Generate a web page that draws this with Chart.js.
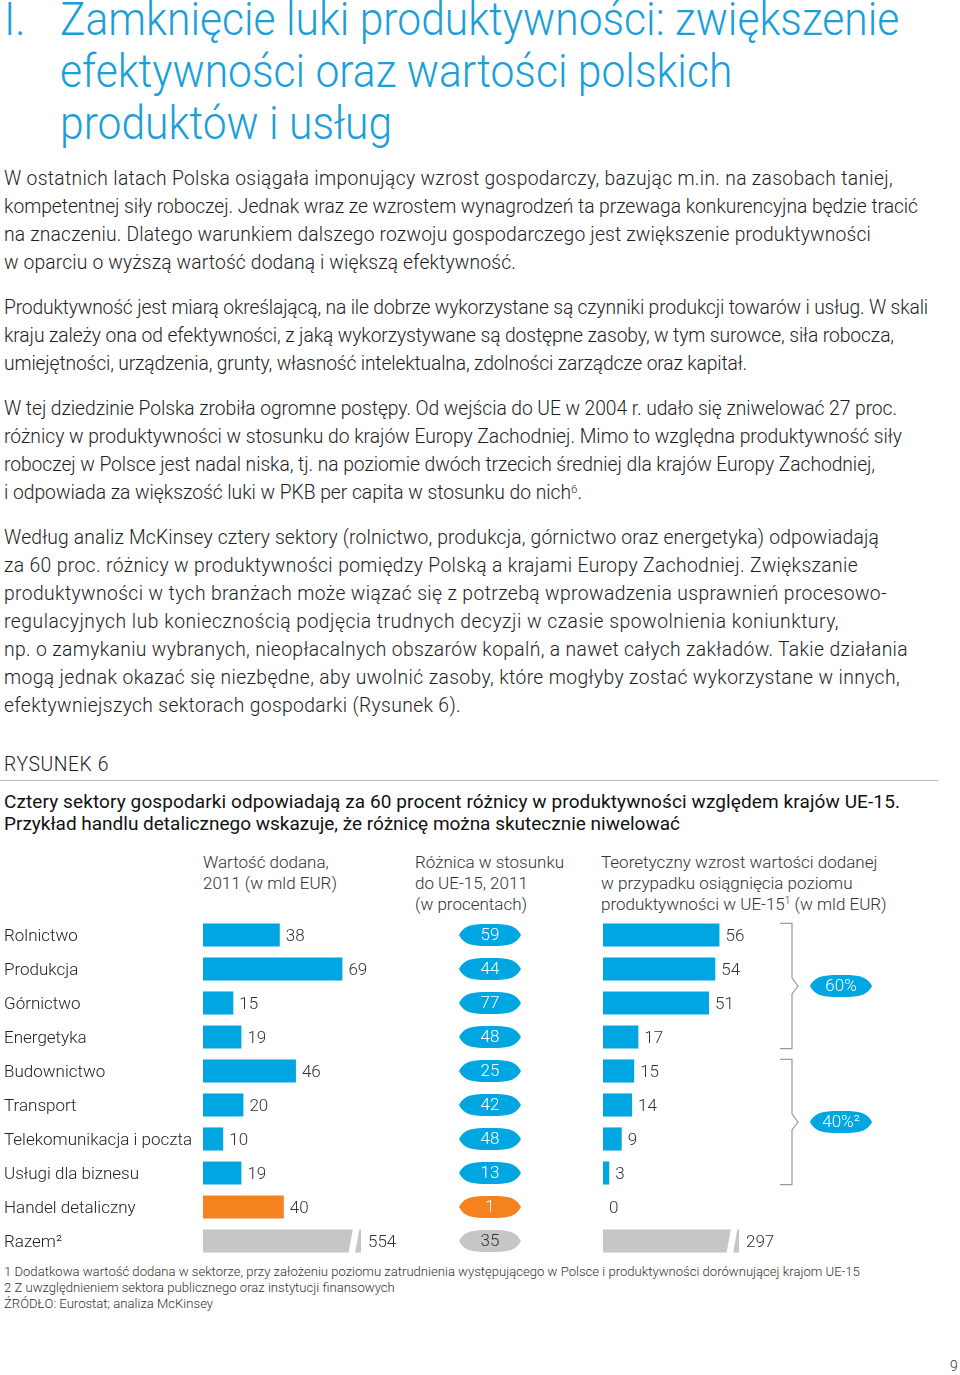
<!DOCTYPE html>
<html lang="pl">
<head>
<meta charset="utf-8">
<script src="https://cdn.jsdelivr.net/npm/chart.js@4.4.1/dist/chart.umd.min.js"></script>
<style>
html,body{margin:0;padding:0;background:#fff;}
body{width:960px;height:1375px;position:relative;overflow:hidden;font-family:Roboto,"Liberation Sans",sans-serif;color:#222;}
.abs{position:absolute;white-space:nowrap;}
.h1{font-size:46px;line-height:52px;font-weight:300;color:#1a9fdb;transform:scaleX(0.926);transform-origin:0 0;}
.p{left:4px;font-size:19.3px;line-height:28px;font-weight:300;color:#1e1e1e;}
.hdr{font-size:17px;line-height:21px;font-weight:300;color:#333;}
.fn{left:4px;font-size:13.1px;line-height:16px;font-weight:300;color:#333;}
sup{font-size:0.6em;line-height:0;vertical-align:0.55em;}
canvas{position:absolute;}
</style>
</head>
<body>
<div class="abs h1" style="left:4px;top:-7px;">I.</div>
<div class="abs h1" style="left:60px;top:-7px;">Zamknięcie luki produktywności: zwiększenie<br>efektywności oraz wartości polskich<br>produktów i usług</div>

<div class="abs p" style="top:165px;"><span class="ln" data-r="893">W ostatnich latach Polska osiągała imponujący wzrost gospodarczy, bazując m.in. na zasobach taniej,</span><br><span class="ln" data-r="918">kompetentnej siły roboczej. Jednak wraz ze wzrostem wynagrodzeń ta przewaga konkurencyjna będzie tracić</span><br><span class="ln" data-r="871">na znaczeniu. Dlatego warunkiem dalszego rozwoju gospodarczego jest zwiększenie produktywności</span><br><span class="ln" data-r="516">w oparciu o wyższą wartość dodaną i większą efektywność.</span></div>

<div class="abs p" style="top:294px;"><span class="ln" data-r="928">Produktywność jest miarą określającą, na ile dobrze wykorzystane są czynniki produkcji towarów i usług. W skali</span><br><span class="ln" data-r="894">kraju zależy ona od efektywności, z jaką wykorzystywane są dostępne zasoby, w tym surowce, siła robocza,</span><br><span class="ln" data-r="747">umiejętności, urządzenia, grunty, własność intelektualna, zdolności zarządcze oraz kapitał.</span></div>

<div class="abs p" style="top:395px;"><span class="ln" data-r="897">W tej dziedzinie Polska zrobiła ogromne postępy. Od wejścia do UE w 2004 r. udało się zniwelować 27 proc.</span><br><span class="ln" data-r="902">różnicy w produktywności w stosunku do krajów Europy Zachodniej. Mimo to względna produktywność siły</span><br><span class="ln" data-r="875">roboczej w Polsce jest nadal niska, tj. na poziomie dwóch trzecich średniej dla krajów Europy Zachodniej,</span><br><span class="ln" data-r="582">i odpowiada za większość luki w PKB per capita w stosunku do nich<sup>6</sup>.</span></div>

<div class="abs p" style="top:524px;"><span class="ln" data-r="879">Według analiz McKinsey cztery sektory (rolnictwo, produkcja, górnictwo oraz energetyka) odpowiadają</span><br><span class="ln" data-r="858">za 60 proc. różnicy w produktywności pomiędzy Polską a krajami Europy Zachodniej. Zwiększanie</span><br><span class="ln" data-r="887">produktywności w tych branżach może wiązać się z potrzebą wprowadzenia usprawnień procesowo-</span><br><span class="ln" data-r="839">regulacyjnych lub koniecznością podjęcia trudnych decyzji w czasie spowolnienia koniunktury,</span><br><span class="ln" data-r="908">np. o zamykaniu wybranych, nieopłacalnych obszarów kopalń, a nawet całych zakładów. Takie działania</span><br><span class="ln" data-r="900">mogą jednak okazać się niezbędne, aby uwolnić zasoby, które mogłyby zostać wykorzystane w innych,</span><br><span class="ln" data-r="461">efektywniejszych sektorach gospodarki (Rysunek 6).</span></div>

<div class="abs p" style="top:751px;"><span class="ln" data-r="109">RYSUNEK 6</span></div>
<div class="abs" style="left:0;top:780px;width:938px;height:1px;background:#bbb;"></div>
<div class="abs" style="left:4px;top:791px;font-size:19px;line-height:22px;font-weight:400;color:#111;"><span class="ln" data-r="900">Cztery sektory gospodarki odpowiadają za 60 procent różnicy w produktywności względem krajów UE-15.</span><br><span class="ln" data-r="680">Przykład handlu detalicznego wskazuje, że różnicę można skutecznie niwelować</span></div>

<div class="abs hdr" style="left:203px;top:852px;">Wartość dodana,<br>2011 (w mld EUR)</div>
<div class="abs hdr" style="left:415px;top:852px;">Różnica w stosunku<br>do UE-15, 2011<br>(w procentach)</div>
<div class="abs hdr" style="left:601px;top:852px;">Teoretyczny wzrost wartości dodanej<br>w przypadku osiągnięcia poziomu<br>produktywności w UE-15<sup>1</sup> (w mld EUR)</div>

<canvas id="c1" width="410" height="340" style="left:0;top:918px;"></canvas>
<canvas id="c2" width="160" height="340" style="left:410px;top:918px;"></canvas>
<canvas id="c3" width="370" height="340" style="left:590px;top:918px;"></canvas>

<div class="abs fn" style="top:1264px;">1 Dodatkowa wartość dodana w sektorze, przy założeniu poziomu zatrudnienia występującego w Polsce i produktywności dorównującej krajom UE-15<br>2 Z uwzględnieniem sektora publicznego oraz instytucji finansowych<br>ŹRÓDŁO: Eurostat; analiza McKinsey</div>
<div class="abs" style="left:950px;top:1358px;font-size:14px;line-height:16px;font-weight:300;color:#333;">9</div>

<script>
// ---- data ----
const categories = ['Rolnictwo','Produkcja','Górnictwo','Energetyka','Budownictwo','Transport','Telekomunikacja i poczta','Usługi dla biznesu','Handel detaliczny','Razem²'];
const valueAdded = [38, 69, 15, 19, 46, 20, 10, 19, 40, 554];
const gapToEU15 = [59, 44, 77, 48, 25, 42, 48, 13, 1, 35];
const potentialGrowth = [56, 54, 51, 17, 15, 14, 9, 3, 0, 297];
const groupShares = ['60%', '40%²'];
const groupRanges = [[0, 3], [4, 7]];
const highlightIndex = 8;
const totalIndex = 9;

// ---- fit text lines to the reference line lengths ----
document.querySelectorAll('.ln').forEach(el => {
  const target = parseFloat(el.dataset.r);
  const rect = el.getBoundingClientRect();
  const n = el.textContent.length;
  const diff = target - rect.right;
  el.style.letterSpacing = (diff / n).toFixed(3) + 'px';
});

// ---- styles ----
const BLUE = '#00a6e1', ORANGE = '#f5821f', GRAY = '#c6c6c6';
const FONT = 'Roboto, "Liberation Sans", sans-serif';
const colorFor = i => i === highlightIndex ? ORANGE : (i === totalIndex ? GRAY : BLUE);
const barColors = categories.map((_, i) => colorFor(i));

function pillPath(ctx, cx, cy, rx, ry) {
  ctx.beginPath();
  ctx.moveTo(cx - rx, cy);
  ctx.bezierCurveTo(cx - rx * 0.82, cy - ry * 1.02, cx - rx * 0.45, cy - ry, cx, cy - ry);
  ctx.bezierCurveTo(cx + rx * 0.45, cy - ry, cx + rx * 0.82, cy - ry * 1.02, cx + rx, cy);
  ctx.bezierCurveTo(cx + rx * 0.82, cy + ry * 1.02, cx + rx * 0.45, cy + ry, cx, cy + ry);
  ctx.bezierCurveTo(cx - rx * 0.45, cy + ry, cx - rx * 0.82, cy + ry * 1.02, cx - rx, cy);
  ctx.closePath();
}

function pillCanvas(color) {
  const c = document.createElement('canvas');
  c.width = 62; c.height = 22;
  const x = c.getContext('2d');
  x.fillStyle = color;
  pillPath(x, 31, 11, 31, 11);
  x.fill();
  return c;
}
const pills = { [BLUE]: pillCanvas(BLUE), [ORANGE]: pillCanvas(ORANGE), [GRAY]: pillCanvas(GRAY) };

const valueLabels = {
  id: 'valueLabels',
  afterDatasetsDraw(chart) {
    const ctx = chart.ctx, meta = chart.getDatasetMeta(0), area = chart.chartArea;
    const vals = chart.data.datasets[0].data;
    ctx.save();
    ctx.font = '300 17px ' + FONT;
    ctx.fillStyle = '#333';
    ctx.textBaseline = 'middle';
    ctx.textAlign = 'left';
    meta.data.forEach((bar, i) => {
      const x = bar.x > area.right ? area.right + 7 : bar.x + 6;
      ctx.fillText(String(vals[i]), x, bar.y + 1.5);
    });
    ctx.restore();
  }
};

const barBreak = {
  id: 'barBreak',
  afterDatasetsDraw(chart) {
    const ctx = chart.ctx, area = chart.chartArea;
    const bar = chart.getDatasetMeta(0).data[totalIndex];
    if (!bar || bar.x <= area.right) return;
    const top = bar.y - bar.height / 2 - 1, bottom = bar.y + bar.height / 2 + 1;
    const R = area.right;
    ctx.save();
    ctx.fillStyle = '#fff';
    ctx.beginPath();
    ctx.moveTo(R - 12.5, bottom);
    ctx.lineTo(R - 6, bottom);
    ctx.lineTo(R - 1.5, top);
    ctx.lineTo(R - 8, top);
    ctx.closePath();
    ctx.fill();
    ctx.restore();
  }
};

function drawPill(ctx, cx, cy, color, text, textColor) {
  ctx.save();
  ctx.fillStyle = color;
  pillPath(ctx, cx, cy, 31, 11);
  ctx.fill();
  ctx.fillStyle = textColor;
  ctx.font = '300 17px ' + FONT;
  ctx.textAlign = 'center';
  ctx.textBaseline = 'middle';
  ctx.fillText(text, cx, cy + 1);
  ctx.restore();
}

const brackets = {
  id: 'brackets',
  afterDatasetsDraw(chart) {
    const ctx = chart.ctx, y = chart.scales.y, meta = chart.getDatasetMeta(0);
    const bx = chart.chartArea.left + 189;
    ctx.save();
    ctx.strokeStyle = '#9a9a9a';
    ctx.lineWidth = 1.2;
    groupRanges.forEach((r, g) => {
      const b0 = meta.data[r[0]], b1 = meta.data[r[1]];
      const top = y.getPixelForValue(r[0]) - b0.height / 2;
      const bottom = y.getPixelForValue(r[1]) + b1.height / 2;
      const mid = (top + bottom) / 2;
      ctx.beginPath();
      ctx.moveTo(bx - 12, top);
      ctx.lineTo(bx, top);
      ctx.lineTo(bx, mid - 8);
      ctx.lineTo(bx + 6, mid);
      ctx.lineTo(bx, mid + 8);
      ctx.lineTo(bx, bottom);
      ctx.lineTo(bx - 12, bottom);
      ctx.stroke();
      drawPill(ctx, bx + 49, mid, BLUE, groupShares[g], '#fff');
    });
    ctx.restore();
  }
};

const pillText = {
  id: 'pillText',
  afterDatasetsDraw(chart) {
    const ctx = chart.ctx, meta = chart.getDatasetMeta(0);
    ctx.save();
    ctx.font = '300 17px ' + FONT;
    ctx.textAlign = 'center';
    ctx.textBaseline = 'middle';
    meta.data.forEach((pt, i) => {
      ctx.fillStyle = i === totalIndex ? '#333' : '#fff';
      ctx.fillText(String(gapToEU15[i]), pt.x, pt.y + 1);
    });
    ctx.restore();
  }
};

const common = {
  responsive: false,
  animation: false,
  events: [],
  plugins: { legend: { display: false }, tooltip: { enabled: false } }
};

// Left: value added
new Chart(document.getElementById('c1'), {
  type: 'bar',
  data: { labels: categories, datasets: [{ data: valueAdded, backgroundColor: barColors, barPercentage: 0.68, categoryPercentage: 1 }] },
  options: Object.assign({}, common, {
    indexAxis: 'y',
    layout: { padding: { left: 4, right: 49, top: 0, bottom: 0 } },
    scales: {
      x: { display: false, min: 0, max: 78.2 },
      y: {
        grid: { display: false }, border: { display: false },
        ticks: { crossAlign: 'far', color: '#222', padding: 0, labelOffset: 2, font: { family: FONT, size: 17, weight: 300 } },
        afterFit(s) { s.width = 199; s.paddingTop = 0; s.paddingBottom = 0; }
      }
    }
  }),
  plugins: [valueLabels, barBreak]
});

// Middle: gap vs EU-15 (pills)
new Chart(document.getElementById('c2'), {
  type: 'scatter',
  data: {
    labels: categories,
    datasets: [{
      data: gapToEU15.map((v, i) => ({ x: 0, y: categories[i] })),
      pointStyle: categories.map((_, i) => pills[colorFor(i)]),
      pointRadius: 11
    }]
  },
  options: Object.assign({}, common, {
    layout: { padding: 0, autoPadding: false },
    scales: {
      x: { display: false, min: -1, max: 1 },
      y: { type: 'category', labels: categories, offset: true, display: false }
    }
  }),
  plugins: [pillText]
});

// Right: theoretical growth
new Chart(document.getElementById('c3'), {
  type: 'bar',
  data: { labels: categories, datasets: [{ data: potentialGrowth, backgroundColor: barColors, barPercentage: 0.68, categoryPercentage: 1 }] },
  options: Object.assign({}, common, {
    indexAxis: 'y',
    layout: { padding: { left: 13, right: 221, top: 0, bottom: 0 } },
    scales: {
      x: { display: false, min: 0, max: 65.4 },
      y: { display: false }
    }
  }),
  plugins: [valueLabels, barBreak, brackets]
});
</script>
</body>
</html>
